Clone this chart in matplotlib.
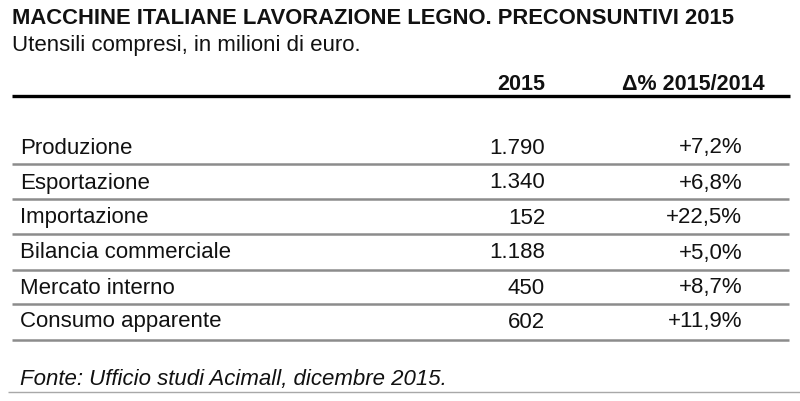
import matplotlib
matplotlib.use('agg')
import matplotlib.pyplot as plt
from matplotlib import font_manager

title = 'MACCHINE ITALIANE LAVORAZIONE LEGNO. PRECONSUNTIVI 2015'
subtitle = 'Utensili compresi, in milioni di euro.'
col_headers = ['2015', '\u0394% 2015/2014']
row_labels = ['Produzione', 'Esportazione', 'Importazione',
              'Bilancia commerciale', 'Mercato interno', 'Consumo apparente']
values_2015 = ['1.790', '1.340', '152', '1.188', '450', '602']
delta_pct = ['+7,2%', '+6,8%', '+22,5%', '+5,0%', '+8,7%', '+11,9%']
source = 'Fonte: Ufficio studi Acimall, dicembre 2015.'

names = {f.name for f in font_manager.fontManager.ttflist}
font = 'Liberation Sans Narrow' if 'Liberation Sans Narrow' in names else 'Liberation Sans'
plt.rcParams['font.family'] = [font, 'DejaVu Sans']

fig = plt.figure(figsize=(8, 4.01), dpi=100)
ax = fig.add_axes([0, 0, 1, 1])
ax.set_xlim(0, 800)
ax.set_ylim(401, 0)
ax.axis('off')

ink = '#111111'
ax.text(12, 19, title, fontsize=15.8, fontweight='bold', va='center', ha='left', color=ink)
ax.text(12, 46, subtitle, fontsize=16, va='center', ha='left', color=ink)

ax.text(545, 84, col_headers[0], fontsize=15.5, fontweight='bold', va='center', ha='right', color=ink)
ax.text(765, 84, col_headers[1], fontsize=15.5, fontweight='bold', va='center', ha='right', color=ink)
ax.plot([12, 790], [96, 96], color='black', lw=2.4, solid_capstyle='butt')

row_y = [148, 183, 218, 253, 288, 322]
line_y = [164, 199, 234, 270, 304, 340]
for i, lab in enumerate(row_labels):
    y = row_y[i]
    ax.text(20, y, lab, fontsize=16, va='center', ha='left', color=ink)
    ax.text(545, y, values_2015[i], fontsize=16, va='center', ha='right', color=ink)
    ax.text(742, y, delta_pct[i], fontsize=16, va='center', ha='right', color=ink)
    ax.plot([12, 789], [line_y[i], line_y[i]], color='#8c8c8c', lw=1.8, solid_capstyle='butt')

ax.text(20, 379, source, fontsize=16, style='italic', va='center', ha='left', color=ink)
ax.plot([8, 800], [392, 392], color='#a8a8a8', lw=1.0, solid_capstyle='butt')

fig.savefig('out.png', dpi=100, facecolor='white')
